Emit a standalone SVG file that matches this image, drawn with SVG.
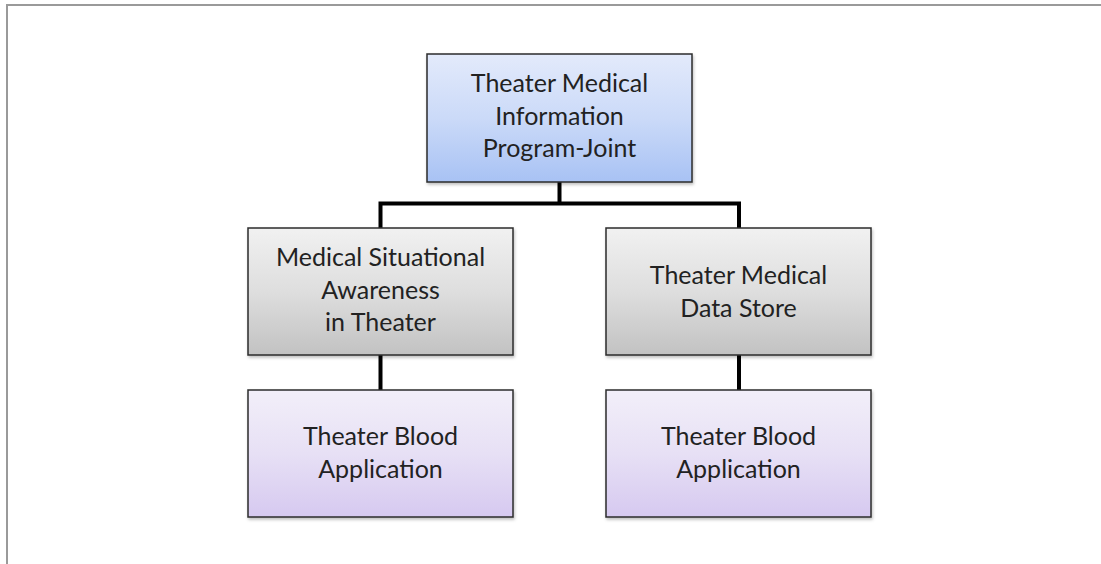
<svg xmlns="http://www.w3.org/2000/svg" width="1101" height="564" viewBox="0 0 1101 564">
  <defs>
    <linearGradient id="gBlue" x1="0" y1="0" x2="0" y2="1">
      <stop offset="0" stop-color="#e3eafb"/>
      <stop offset="0.5" stop-color="#cbdaf8"/>
      <stop offset="1" stop-color="#a8c2f4"/>
    </linearGradient>
    <linearGradient id="gGray" x1="0" y1="0" x2="0" y2="1">
      <stop offset="0" stop-color="#f1f1f1"/>
      <stop offset="0.5" stop-color="#dedede"/>
      <stop offset="1" stop-color="#c2c2c2"/>
    </linearGradient>
    <linearGradient id="gPurple" x1="0" y1="0" x2="0" y2="1">
      <stop offset="0" stop-color="#f2eff9"/>
      <stop offset="0.5" stop-color="#e7e0f5"/>
      <stop offset="1" stop-color="#d6c9f0"/>
    </linearGradient>
    <filter id="shadow" x="-5%" y="-5%" width="115%" height="120%">
      <feDropShadow dx="1" dy="2" stdDeviation="1.5" flood-color="#000" flood-opacity="0.25"/>
    </filter>
  </defs>
  <style>
    .box { stroke: #2b2b2b; stroke-width: 1.5; filter: url(#shadow); }
    .lbl { font-family: Lato, "Open Sans", "Liberation Sans", sans-serif; font-size: 25px; fill: #222; text-anchor: middle; }
    .conn { stroke: #000; stroke-width: 4; fill: none; }
  </style>
  <rect x="0" y="0" width="1101" height="564" fill="#fff"/>
  <path d="M7,564 V5 H1101" fill="none" stroke="#9a9a9a" stroke-width="2"/>

  <g id="connectors">
    <path class="conn" d="M559.5,182 V203.5"/>
    <path class="conn" d="M380.5,228 V203.5 H739 V228"/>
    <path class="conn" d="M380.5,355 V390"/>
    <path class="conn" d="M739,355 V390"/>
  </g>

  <g id="node-tmip">
    <rect class="box" x="427" y="54" width="265" height="128" fill="url(#gBlue)"/>
    <text class="lbl" x="559.5" y="92">Theater Medical</text>
    <text class="lbl" x="559.5" y="125">Information</text>
    <text class="lbl" x="559.5" y="157">Program-Joint</text>
  </g>

  <g id="node-msat">
    <rect class="box" x="248" y="228" width="265" height="127" fill="url(#gGray)"/>
    <text class="lbl" x="380.5" y="266">Medical Situational</text>
    <text class="lbl" x="380.5" y="299">Awareness</text>
    <text class="lbl" x="380.5" y="331">in Theater</text>
  </g>

  <g id="node-tmds">
    <rect class="box" x="606" y="228" width="265" height="127" fill="url(#gGray)"/>
    <text class="lbl" x="738.5" y="284">Theater Medical</text>
    <text class="lbl" x="738.5" y="317">Data Store</text>
  </g>

  <g id="node-tba-left">
    <rect class="box" x="248" y="390" width="265" height="127" fill="url(#gPurple)"/>
    <text class="lbl" x="380.5" y="445">Theater Blood</text>
    <text class="lbl" x="380.5" y="478">Application</text>
  </g>

  <g id="node-tba-right">
    <rect class="box" x="606" y="390" width="265" height="127" fill="url(#gPurple)"/>
    <text class="lbl" x="738.5" y="445">Theater Blood</text>
    <text class="lbl" x="738.5" y="478">Application</text>
  </g>
</svg>
